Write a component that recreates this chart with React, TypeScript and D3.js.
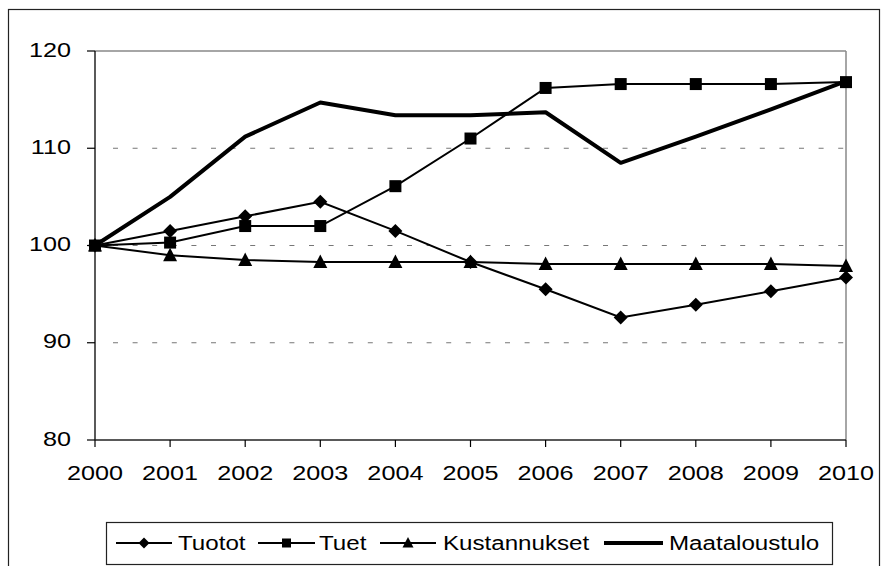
import React from "react";
import * as d3 from "d3";

const years = [2000, 2001, 2002, 2003, 2004, 2005, 2006, 2007, 2008, 2009, 2010];
const tuotot = [100, 101.5, 103, 104.5, 101.5, 98.3, 95.5, 92.6, 93.9, 95.3, 96.7];
const tuet = [100, 100.3, 102, 102, 106.1, 111, 116.2, 116.6, 116.6, 116.6, 116.8];
const kustannukset = [100, 99, 98.5, 98.3, 98.3, 98.3, 98.1, 98.1, 98.1, 98.1, 97.9];
const maataloustulo = [100, 105, 111.2, 114.7, 113.4, 113.4, 113.7, 108.5, 111.2, 114, 116.9];
const yTicks = [80, 90, 100, 110, 120];
const seriesNames = ["Tuotot", "Tuet", "Kustannukset", "Maataloustulo"];

const FONT = "'Liberation Sans', Arial, sans-serif";
const SX = 1.2;

function Marker({ type, x, y, s }: { type: string; x: number; y: number; s: number }) {
  if (type === "diamond") {
    const h = s / 2 + 1;
    return <path d={`M${x},${y - h}L${x + h},${y}L${x},${y + h}L${x - h},${y}Z`} fill="#000" />;
  }
  if (type === "square") {
    return <rect x={x - s / 2} y={y - s / 2} width={s} height={s} fill="#000" />;
  }
  if (type === "triangle") {
    const h = s / 2;
    return <path d={`M${x},${y - h - 1.5}L${x + h + 1},${y + h}L${x - h - 1},${y + h}Z`} fill="#000" />;
  }
  return null;
}

export default function App() {
  const x = d3.scaleLinear().domain([2000, 2010]).range([95, 846]);
  const y = d3.scaleLinear().domain([80, 120]).range([440, 51]);
  const line = d3
    .line<number>()
    .x((_, i) => x(years[i]))
    .y((d) => y(d));

  const series = [
    { name: seriesNames[0], data: tuotot, marker: "diamond", w: 2, s: 12 },
    { name: seriesNames[1], data: tuet, marker: "square", w: 2, s: 12 },
    { name: seriesNames[2], data: kustannukset, marker: "triangle", w: 2, s: 12 },
  ];

  const legendItems = [
    { name: seriesNames[0], marker: "diamond", x0: 116, x1: 172, tx: 178, w: 2 },
    { name: seriesNames[1], marker: "square", x0: 258, x1: 315, tx: 319, w: 2 },
    { name: seriesNames[2], marker: "triangle", x0: 380, x1: 436, tx: 443, w: 2 },
    { name: seriesNames[3], marker: "none", x0: 604, x1: 663, tx: 669, w: 4 },
  ];

  return (
    <svg
      width={888}
      height={566}
      style={{ position: "absolute", left: 0, top: 0, background: "#fff" }}
      fontFamily={FONT}
    >
      <rect x={0} y={0} width={888} height={566} fill="#fff" />
      <rect x={8.5} y={9.5} width={871} height={600} fill="none" stroke="#222" strokeWidth={1.2} />

      {/* gridlines */}
      {yTicks
        .filter((t) => t !== 80 && t !== 120)
        .map((t) => (
          <line
            key={t}
            x1={113}
            x2={846}
            y1={y(t)}
            y2={y(t)}
            stroke="#777"
            strokeWidth={1.2}
            strokeDasharray="5 14.6"
          />
        ))}
      {/* plot frame */}
      <line x1={95} x2={846} y1={y(120)} y2={y(120)} stroke="#888" strokeWidth={1.5} />
      <line x1={846} x2={846} y1={y(120)} y2={y(80)} stroke="#888" strokeWidth={1.5} />
      <line x1={95} x2={95} y1={y(120)} y2={y(80)} stroke="#000" strokeWidth={1.3} />
      <line x1={95} x2={846} y1={y(80)} y2={y(80)} stroke="#222" strokeWidth={1.3} />

      {/* y ticks */}
      {yTicks.map((t) => (
        <g key={t}>
          <line x1={87} x2={95} y1={y(t)} y2={y(t)} stroke="#000" strokeWidth={1.2} />
          <text
            transform={`translate(71,${y(t) + 5.5}) scale(${SX},1)`}
            textAnchor="end"
            fontSize={21}
            fill="#000"
          >
            {t}
          </text>
        </g>
      ))}
      {/* x ticks */}
      {years.map((yr) => (
        <g key={yr}>
          <line x1={x(yr)} x2={x(yr)} y1={y(80)} y2={y(80) + 7} stroke="#000" strokeWidth={1.2} />
          <text
            transform={`translate(${x(yr)},480) scale(${SX},1)`}
            textAnchor="middle"
            fontSize={21}
            fill="#000"
          >
            {yr}
          </text>
        </g>
      ))}

      {/* series */}
      <path d={line(maataloustulo) || ""} fill="none" stroke="#000" strokeWidth={4} strokeLinejoin="round" />
      {series.map((s) => (
        <g key={s.name}>
          <path d={line(s.data) || ""} fill="none" stroke="#000" strokeWidth={s.w} />
          {s.data.map((v, i) => (
            <Marker key={i} type={s.marker} x={x(years[i])} y={y(v)} s={s.s} />
          ))}
        </g>
      ))}

      {/* legend */}
      <rect x={106.5} y={522.5} width={726} height={42} fill="#fff" stroke="#222" strokeWidth={1.2} />
      {legendItems.map((it) => (
        <g key={it.name}>
          <line x1={it.x0} x2={it.x1} y1={543} y2={543} stroke="#000" strokeWidth={it.w} />
          <Marker type={it.marker} x={(it.x0 + it.x1) / 2} y={543} s={9} />
          <text
            transform={`translate(${it.tx},550) scale(1.15,1)`}
            fontSize={21}
            fill="#000"
          >
            {it.name}
          </text>
        </g>
      ))}
    </svg>
  );
}
